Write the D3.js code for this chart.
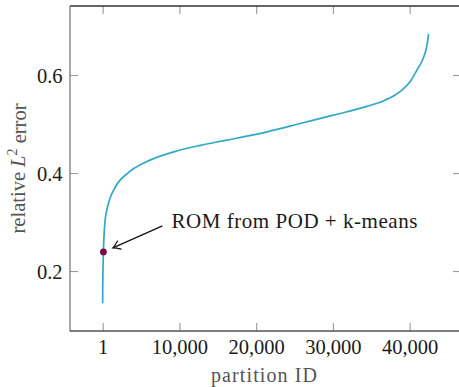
<!DOCTYPE html>
<html>
<head>
<meta charset="utf-8">
<script src="https://cdn.jsdelivr.net/npm/d3@7"></script>
<style>
  html, body { margin: 0; padding: 0; background: #fff; }
  svg { display: block; }
  text { font-family: "Liberation Serif", "Times New Roman", serif; }
</style>
</head>
<body>
<svg id="chart" width="459" height="387"></svg>
<script>
// ---- data ----
const partitionIds = [1, 10, 30, 100, 270, 500, 885, 1667, 3360, 5573, 9870, 12734, 16000, 21420, 26000, 30050, 34440, 36560, 38000, 39000, 40000, 40950, 41600, 42030, 42300, 42460];
const errors       = [0.134, 0.165, 0.19, 0.239, 0.295, 0.321, 0.345, 0.372, 0.401, 0.422, 0.446, 0.4565, 0.4665, 0.484, 0.502, 0.518, 0.536, 0.547, 0.558, 0.569, 0.585, 0.610, 0.628, 0.646, 0.664, 0.684];
const xTicks = [1, 10000, 20000, 30000, 40000];
const yTicks = [0.2, 0.4, 0.6];
const highlightId = [100];
const highlightErr = [0.239];
const annotationText = "ROM from POD + k-means";
const xLabel = "partition ID";

// ---- layout ----
const L = 70, R = 461, T = 6, B = 331;
const svg = d3.select("#chart");
const x = d3.scaleLinear().domain([-4255, 46693]).range([L, R]);
const y = d3.scaleLinear().domain([0.0776, 0.7408]).range([B, T]);

const tickColor = "#9a9a9a";
const fs = 20.5;

// bottom axis
const gx = svg.append("g").attr("transform", `translate(0,${B})`)
  .call(d3.axisBottom(x).tickValues(xTicks).tickFormat(d3.format(",")).tickSizeInner(-8).tickSizeOuter(0));
gx.select(".domain").remove();
gx.selectAll(".tick line").attr("stroke", tickColor).attr("stroke-width", 1.1);
gx.selectAll(".tick text").attr("y", 15.7).attr("dy", "0.35em")
  .attr("font-size", fs).attr("fill", "#1a1a1a").attr("font-family", "Liberation Serif, serif");

// top ticks
const gxt = svg.append("g").attr("transform", `translate(0,${T})`)
  .call(d3.axisTop(x).tickValues(xTicks).tickFormat("").tickSizeInner(-8).tickSizeOuter(0));
gxt.select(".domain").remove();
gxt.selectAll(".tick line").attr("stroke", tickColor).attr("stroke-width", 1.1);

// left axis
const gy = svg.append("g").attr("transform", `translate(${L},0)`)
  .call(d3.axisLeft(y).tickValues(yTicks).tickFormat(d3.format(".1f")).tickSizeInner(-8).tickSizeOuter(0));
gy.select(".domain").remove();
gy.selectAll(".tick line").attr("stroke", tickColor).attr("stroke-width", 1.1);
gy.selectAll(".tick text").attr("x", -7.5).attr("dy", "0.35em")
  .attr("font-size", fs).attr("fill", "#1a1a1a").attr("font-family", "Liberation Serif, serif");

// right ticks
const gyr = svg.append("g").attr("transform", `translate(${R},0)`)
  .call(d3.axisRight(y).tickValues(yTicks).tickFormat("").tickSizeInner(-8).tickSizeOuter(0));
gyr.select(".domain").remove();
gyr.selectAll(".tick line").attr("stroke", tickColor).attr("stroke-width", 1.1);

// axis box lines
svg.append("line").attr("x1", L).attr("x2", R).attr("y1", T).attr("y2", T).attr("stroke", "#333").attr("stroke-width", 1.3);
svg.append("line").attr("x1", L).attr("x2", L).attr("y1", T - 0.6).attr("y2", B + 0.6).attr("stroke", "#7a7a7a").attr("stroke-width", 1.3);
svg.append("line").attr("x1", L).attr("x2", R).attr("y1", B).attr("y2", B).attr("stroke", "#555").attr("stroke-width", 1.3);
svg.append("line").attr("x1", R).attr("x2", R).attr("y1", T).attr("y2", B).attr("stroke", "#555").attr("stroke-width", 1.3);

// curve
const pts = partitionIds.map((d, i) => [d, errors[i]]);
const line = d3.line().x(d => x(d[0])).y(d => y(d[1])).curve(d3.curveMonotoneX);
svg.append("path").attr("d", line(pts)).attr("fill", "none")
  .attr("stroke", "#31a8c8").attr("stroke-width", 1.7).attr("stroke-linejoin", "round");

// highlight point
const hx = x(highlightId[0]), hy = y(highlightErr[0]);
svg.append("circle").attr("cx", hx).attr("cy", hy).attr("r", 3.4).attr("fill", "#7a0a4a");

// annotation arrow
const defs = svg.append("defs");
defs.append("marker").attr("id", "arr").attr("viewBox", "-10 -6 12 12")
  .attr("markerWidth", 12).attr("markerHeight", 12).attr("refX", 0).attr("refY", 0)
  .attr("markerUnits", "userSpaceOnUse").attr("orient", "auto")
  .append("path").attr("d", "M-7,-4.5 Q-2.5,-1 0,0 Q-2.5,1 -7,4.5")
  .attr("fill", "none").attr("stroke", "#111").attr("stroke-width", 1.2).attr("stroke-linecap", "round");
svg.append("line").attr("x1", hx + 59).attr("y1", hy - 26).attr("x2", hx + 9.5).attr("y2", hy - 4)
  .attr("stroke", "#111").attr("stroke-width", 1.3).attr("marker-end", "url(#arr)");
svg.append("text").attr("x", hx + 68).attr("y", hy - 24).attr("font-size", 21)
  .attr("textLength", 246).attr("lengthAdjust", "spacing")
  .attr("fill", "#1a1a1a").text(annotationText);

// axis labels
svg.append("text").attr("x", (L + 458) / 2).attr("y", 375.5).attr("dy", "0.32em")
  .attr("text-anchor", "middle").attr("font-size", 20)
  .attr("textLength", 106).attr("lengthAdjust", "spacing")
  .attr("fill", "#555").text(xLabel);

const yl = svg.append("text").attr("transform", `translate(18,${(T + B) / 2}) rotate(-90)`)
  .attr("text-anchor", "middle").attr("dy", "0.35em").attr("font-size", 20.5).attr("fill", "#555");
yl.append("tspan").text("relative ");
yl.append("tspan").attr("font-style", "italic").text("L");
yl.append("tspan").attr("font-size", 14).attr("dy", "-0.55em").text("2");
yl.append("tspan").attr("dy", "0.4em").text(" error");
</script>
</body>
</html>
